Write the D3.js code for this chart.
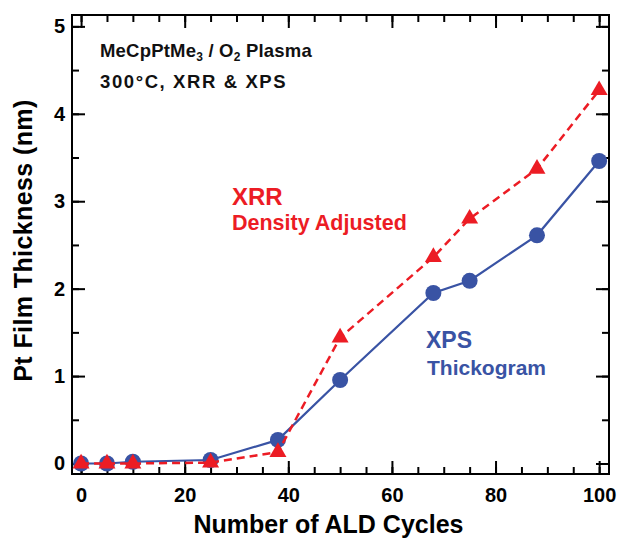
<!DOCTYPE html>
<html>
<head>
<meta charset="utf-8">
<script src="https://cdn.jsdelivr.net/npm/d3@7"></script>
<style>
  body { margin: 0; background: #fff; }
  svg text { font-family: "Liberation Sans", Arial, sans-serif; font-weight: bold; }
</style>
</head>
<body>
<div id="chart"></div>
<script>
// Pt film thickness vs ALD cycles, XRR (density adjusted) and XPS (thickogram)
const cycles = [0, 5, 10, 25, 38, 50, 68, 75, 88, 100];
const xpsThickness = [0.0, 0.0, 0.02, 0.04, 0.27, 0.955, 1.95, 2.09, 2.61, 3.46];
const xrrThickness = [0.0, 0.0, 0.0, 0.01, 0.13, 1.44, 2.36, 2.80, 3.37, 4.27];

const xTicks = [0, 20, 40, 60, 80, 100];
const xMinorTicks = [0, 5, 10, 15, 20, 25, 30, 35, 40, 45, 50, 55, 60, 65, 70, 75, 80, 85, 90, 95, 100];
const yTicks = [0, 1, 2, 3, 4, 5];
const yMinorTicks = [0, 0.5, 1, 1.5, 2, 2.5, 3, 3.5, 4, 4.5, 5];

(function () {
  const W = 618, H = 539;
  const margin = { top: 15, right: 9, bottom: 65, left: 72 };
  const width = W - margin.left - margin.right;
  const height = H - margin.top - margin.bottom;
  const RED = "#ec1c24";
  const BLUE = "#3953a4";

  const svg = d3.select("#chart").append("svg")
    .attr("width", W).attr("height", H)
    .append("g")
    .attr("transform", `translate(${margin.left},${margin.top})`);

  const x = d3.scaleLinear().domain([-1.75, 101.9]).range([0, width]);
  const y = d3.scaleLinear().domain([-0.12, 5.13]).range([height, 0]);

  // inward ticks on all four sides
  function tickAxis(axisFn, scale, values, size, labels, pad, transform) {
    const ax = axisFn(scale).tickValues(values).tickSizeInner(-size).tickSizeOuter(0)
      .tickPadding(pad)
      .tickFormat(labels ? d3.format("d") : "");
    const g = svg.append("g").attr("transform", transform).call(ax);
    g.select(".domain").remove();
    g.selectAll("line").attr("stroke", "#000").attr("stroke-width", 2);
    g.selectAll("text").attr("fill", "#000").style("font-size", "20px");
    return g;
  }

  tickAxis(d3.axisBottom, x, xMinorTicks, 7, false, 0, `translate(0,${height})`);
  tickAxis(d3.axisBottom, x, xTicks, 13, true, 14, `translate(0,${height})`);
  tickAxis(d3.axisTop, x, xMinorTicks, 7, false, 0, "translate(0,0)");
  tickAxis(d3.axisTop, x, xTicks, 13, false, 0, "translate(0,0)");
  tickAxis(d3.axisLeft, y, yMinorTicks, 7, false, 0, "translate(0,0)");
  tickAxis(d3.axisLeft, y, yTicks, 13, true, 7, "translate(0,0)");
  tickAxis(d3.axisRight, y, yMinorTicks, 7, false, 0, `translate(${width},0)`);
  tickAxis(d3.axisRight, y, yTicks, 13, false, 0, `translate(${width},0)`);

  svg.append("rect")
    .attr("width", width).attr("height", height)
    .attr("fill", "none").attr("stroke", "#000").attr("stroke-width", 2);

  // axis titles
  svg.append("text")
    .attr("x", 328.5 - margin.left)
    .attr("y", height + 59)
    .attr("text-anchor", "middle")
    .style("font-size", "25px")
    .attr("fill", "#000")
    .text("Number of ALD Cycles");

  svg.append("text")
    .attr("transform", `translate(${31.5 - margin.left},${240.5 - margin.top}) rotate(-90)`)
    .attr("text-anchor", "middle")
    .style("font-size", "25px")
    .style("letter-spacing", "0.4px")
    .attr("fill", "#000")
    .text("Pt Film Thickness (nm)");

  const xps = cycles.map((c, i) => ({ c, v: xpsThickness[i] }));
  const xrr = cycles.map((c, i) => ({ c, v: xrrThickness[i] }));
  const line = d3.line().x(d => x(d.c)).y(d => y(d.v));

  // XPS: solid blue with circles
  svg.append("path").datum(xps)
    .attr("fill", "none").attr("stroke", BLUE).attr("stroke-width", 2.2)
    .attr("d", line);
  svg.selectAll(".xps-dot").data(xps).enter().append("circle")
    .attr("class", "xps-dot")
    .attr("cx", d => x(d.c)).attr("cy", d => y(d.v))
    .attr("r", 8).attr("fill", BLUE);

  // XRR: dashed red with triangles
  svg.append("path").datum(xrr)
    .attr("fill", "none").attr("stroke", RED).attr("stroke-width", 2.5)
    .attr("stroke-dasharray", "8,5")
    .attr("d", line);
  svg.selectAll(".xrr-tri").data(xrr).enter().append("path")
    .attr("class", "xrr-tri")
    .attr("transform", d => `translate(${x(d.c)},${y(d.v)})`)
    .attr("d", d3.symbol(d3.symbolTriangle, 125))
    .attr("fill", RED);

  // annotations
  const title = svg.append("text")
    .attr("x", 100 - margin.left).attr("y", 57 - margin.top)
    .style("font-size", "18.5px").style("letter-spacing", "0.2px").attr("fill", "#111");
  title.append("tspan").text("MeCpPtMe");
  title.append("tspan").text("3").style("font-size", "12px").attr("dy", 4);
  title.append("tspan").text(" / O").attr("dy", -4);
  title.append("tspan").text("2").style("font-size", "12px").attr("dy", 4);
  title.append("tspan").text(" Plasma").attr("dy", -4);

  svg.append("text")
    .attr("x", 100 - margin.left).attr("y", 88 - margin.top)
    .style("font-size", "18.5px").style("letter-spacing", "1.6px").attr("fill", "#111")
    .text("300°C, XRR & XPS");

  svg.append("text")
    .attr("x", 232 - margin.left).attr("y", 205 - margin.top)
    .style("font-size", "24px").attr("fill", RED).text("XRR");
  svg.append("text")
    .attr("x", 232 - margin.left).attr("y", 230 - margin.top)
    .style("font-size", "21.5px").attr("fill", RED).text("Density Adjusted");

  svg.append("text")
    .attr("x", 426 - margin.left).attr("y", 348 - margin.top)
    .style("font-size", "23px").attr("fill", BLUE).text("XPS");
  svg.append("text")
    .attr("x", 427 - margin.left).attr("y", 375 - margin.top)
    .style("font-size", "21px").attr("fill", BLUE).text("Thickogram");
})();
</script>
</body>
</html>
